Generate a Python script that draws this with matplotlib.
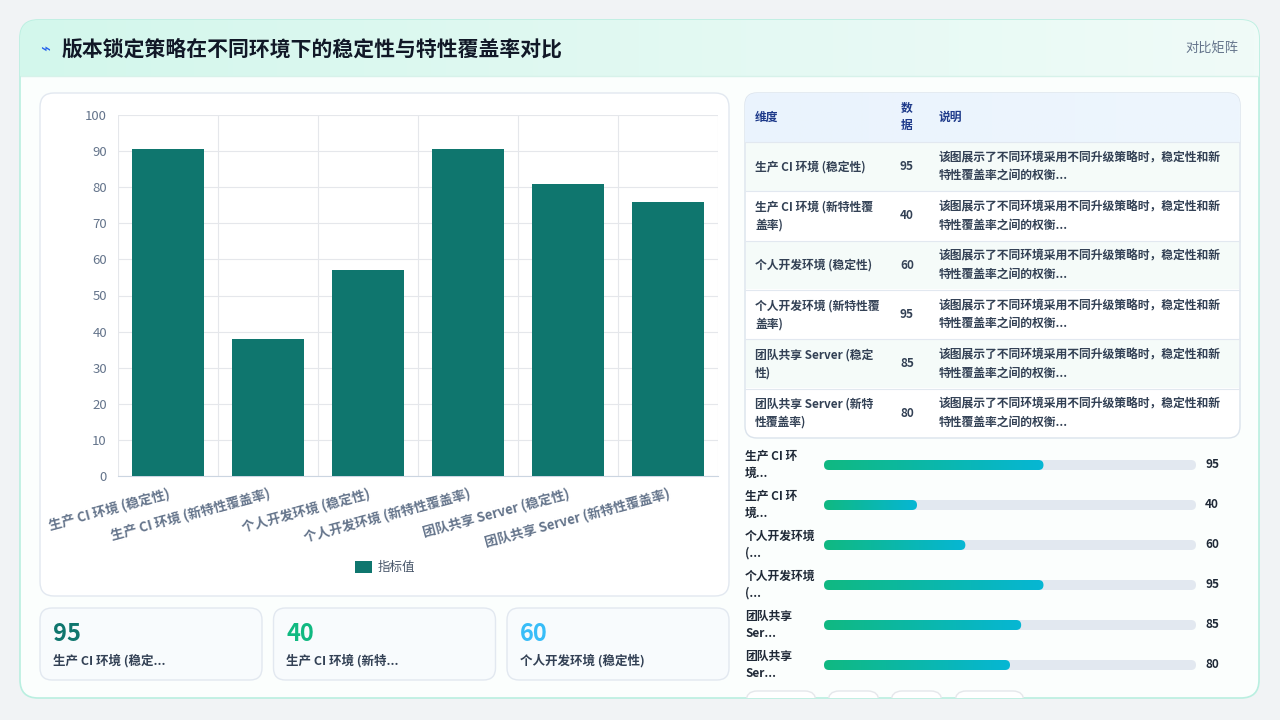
import numpy as np
import matplotlib
matplotlib.use("Agg")
import matplotlib.pyplot as plt
from matplotlib.patches import FancyBboxPatch

plt.rcParams['font.family'] = ['Noto Sans CJK SC', 'DejaVu Sans']

# data
title = "版本锁定策略在不同环境下的稳定性与特性覆盖率对比"
categories = ["生产 CI 环境 (稳定性)", "生产 CI 环境 (新特性覆盖率)", "个人开发环境 (稳定性)",
              "个人开发环境 (新特性覆盖率)", "团队共享 Server (稳定性)", "团队共享 Server (新特性覆盖率)"]
bar_values = [90.5, 38, 57, 90.5, 81, 76]
table_dims = ["生产 CI 环境 (稳定性)", "生产 CI 环境 (新特性覆\n盖率)", "个人开发环境 (稳定性)",
              "个人开发环境 (新特性覆\n盖率)", "团队共享 Server (稳定\n性)", "团队共享 Server (新特\n性覆盖率)"]
table_vals = [95, 40, 60, 95, 85, 80]
desc = "该图展示了不同环境采用不同升级策略时，稳定性和新\n特性覆盖率之间的权衡..."
prog_labels = ["生产 CI 环\n境...", "生产 CI 环\n境...", "个人开发环境\n(...", "个人开发环境\n(...",
               "团队共享\nSer...", "团队共享\nSer..."]
prog_fill = [0.59, 0.25, 0.38, 0.59, 0.53, 0.50]
kpi_vals = ["95", "40", "60"]
kpi_labels = ["生产 CI 环境 (稳定...", "生产 CI 环境 (新特...", "个人开发环境 (稳定性)"]
kpi_colors = ["#0f766e", "#10b981", "#38bdf8"]

W, H = 1280, 720
fig = plt.figure(figsize=(12.8, 7.2), dpi=100, facecolor="#f1f3f5")
bg = fig.add_axes([0, 0, 1, 1])
bg.set_xlim(0, W)
bg.set_ylim(H, 0)
bg.axis("off")


def box(x0, y0, x1, y1, fc="white", ec="#e2e8f0", r=12, lw=1, z=1):
    p = FancyBboxPatch((x0, y0), x1 - x0, y1 - y0, boxstyle=f"round,pad=0,rounding_size={r}",
                       fc=fc, ec=ec, lw=lw, zorder=z)
    bg.add_patch(p)
    return p


def hgrad(x0, y0, x1, y1, c0, c1, clip, z=2):
    c0 = np.array(matplotlib.colors.to_rgb(c0))
    c1 = np.array(matplotlib.colors.to_rgb(c1))
    t = np.linspace(0, 1, 256)[None, :, None]
    img = c0 * (1 - t) + c1 * t
    im = bg.imshow(img, extent=(x0, x1, y1, y0), aspect="auto", zorder=z)
    im.set_clip_path(clip)


# outer card
outer = box(20, 20, 1259, 698, fc="#fbfefd", ec="#b9efe0", r=18, lw=1.2)
hdr = FancyBboxPatch((20, 20), 1239, 56, boxstyle="round,pad=0,rounding_size=18", fc="none", ec="none")
bg.add_patch(hdr)
hgrad(20, 20, 1259, 76, "#d3f7ec", "#f0fbf8", outer, z=1.5)
bg.plot([21, 1258], [76, 76], color="#d7f2ea", lw=1, zorder=3)
bg.text(40, 49, "⌁", fontsize=12, color="#2563eb", va="center", zorder=4)
bg.text(62, 49, title, fontsize=15, fontweight="bold", color="#111827", va="center", zorder=4)
bg.text(1238, 49, "对比矩阵", fontsize=9.5, color="#64748b", va="center", ha="right", zorder=4)

# chart card
box(40, 93, 729, 596, ec="#e2e8f0", r=14)
ax = fig.add_axes([118 / W, (H - 476) / H, 600 / W, 361 / H])
ax.set_facecolor("white")
x = np.arange(len(categories))
ax.bar(x, bar_values, width=0.72, color="#0f766e", zorder=3)
ax.set_xlim(-0.5, len(categories) - 0.5)
ax.set_ylim(0, 100)
ax.set_yticks(range(0, 101, 10))
ax.set_xticks(np.arange(-0.5, len(categories), 1), minor=True)
ax.grid(True, axis="y", color="#e5e7eb", lw=0.8, zorder=0)
ax.grid(True, axis="x", which="minor", color="#e5e7eb", lw=0.8, zorder=0)
ax.set_xticks(x)
ax.set_xticklabels(categories, rotation=15, ha="right", rotation_mode="anchor",
                   fontsize=9.5, fontweight="bold", color="#64748b")
ax.tick_params(axis="x", which="both", length=0, pad=8)
ax.tick_params(axis="y", length=0, labelsize=9.5, labelcolor="#64748b", pad=8)
for s in ["top", "right", "left"]:
    ax.spines[s].set_visible(False)
ax.spines["bottom"].set_color("#cbd5e1")
bg.add_patch(plt.Rectangle((355, 561), 17, 12, fc="#0f766e", zorder=3))
bg.text(378, 567, "指标值", fontsize=9, color="#475569", va="center", zorder=3)

# KPI cards
for i, (v, lab, c) in enumerate(zip(kpi_vals, kpi_labels, kpi_colors)):
    x0 = 40 + i * 233.5
    box(x0, 608, x0 + 222, 680, fc="#f8fbfd", ec="#e2e8f0", r=12)
    bg.text(x0 + 13, 634, v, fontsize=17, fontweight="bold", color=c, va="center", zorder=3)
    bg.text(x0 + 13, 661, lab, fontsize=9, fontweight="bold", color="#334155", va="center", zorder=3)

# table
tcard = box(745, 93, 1240, 438, ec="#dbe3ec", r=12)
hgrad(745, 93, 1240, 142, "#eaf3fd", "#eef6fd", tcard, z=1.5)
bg.text(755, 117, "维度", fontsize=8.5, fontweight="bold", color="#1e3a8a", va="center", zorder=3)
bg.text(901, 117, "数\n据", fontsize=8.5, fontweight="bold", color="#1e3a8a", va="center", linespacing=1.4, zorder=3)
bg.text(939, 117, "说明", fontsize=8.5, fontweight="bold", color="#1e3a8a", va="center", zorder=3)
row_h = 49.3
for i, (d, v) in enumerate(zip(table_dims, table_vals)):
    y0 = 142 + i * row_h
    bg.plot([746, 1239], [y0, y0], color="#e2e8f0", lw=0.8, zorder=3)
    if i % 2 == 0:
        bg.add_patch(plt.Rectangle((746, y0 + 0.5), 493, row_h - 1, fc="#f5fbf9", ec="none", zorder=1.6))
    yc = y0 + row_h / 2
    bg.text(755, yc, d, fontsize=8.5, fontweight="bold", color="#334155", va="center", linespacing=1.5, zorder=3)
    bg.text(907, yc, str(v), fontsize=8.5, fontweight="bold", color="#334155", va="center", ha="center", zorder=3)
    bg.text(939, yc, desc, fontsize=8.5, fontweight="bold", color="#334155", va="center", linespacing=1.5, zorder=3)

# progress bars
for i, (lab, f, v) in enumerate(zip(prog_labels, prog_fill, table_vals)):
    yc = 465 + i * 40
    bg.text(745, yc, lab, fontsize=8.5, fontweight="bold", color="#1f2937", va="center", linespacing=1.4, zorder=3)
    box(824, yc - 5, 1196, yc + 5, fc="#e2e8f0", ec="none", r=5, z=2)
    clip = box(824, yc - 5, 824 + 372 * f, yc + 5, fc="none", ec="none", r=5, z=2)
    hgrad(824, yc - 5, 824 + 372 * f, yc + 5, "#10b981", "#06b6d4", clip, z=2.5)
    bg.text(1205, yc, str(v), fontsize=8.5, fontweight="bold", color="#1f2937", va="center", zorder=3)

# pill tags peeking at bottom
for x0, x1 in [(746, 816), (828, 879), (891, 942), (955, 1024)]:
    p = box(x0, 691, x1, 715, fc="white", ec="#e5e7eb", r=11, z=1.2)
    p.set_clip_path(outer)

fig.savefig("out.png", dpi=100, facecolor=fig.get_facecolor())
